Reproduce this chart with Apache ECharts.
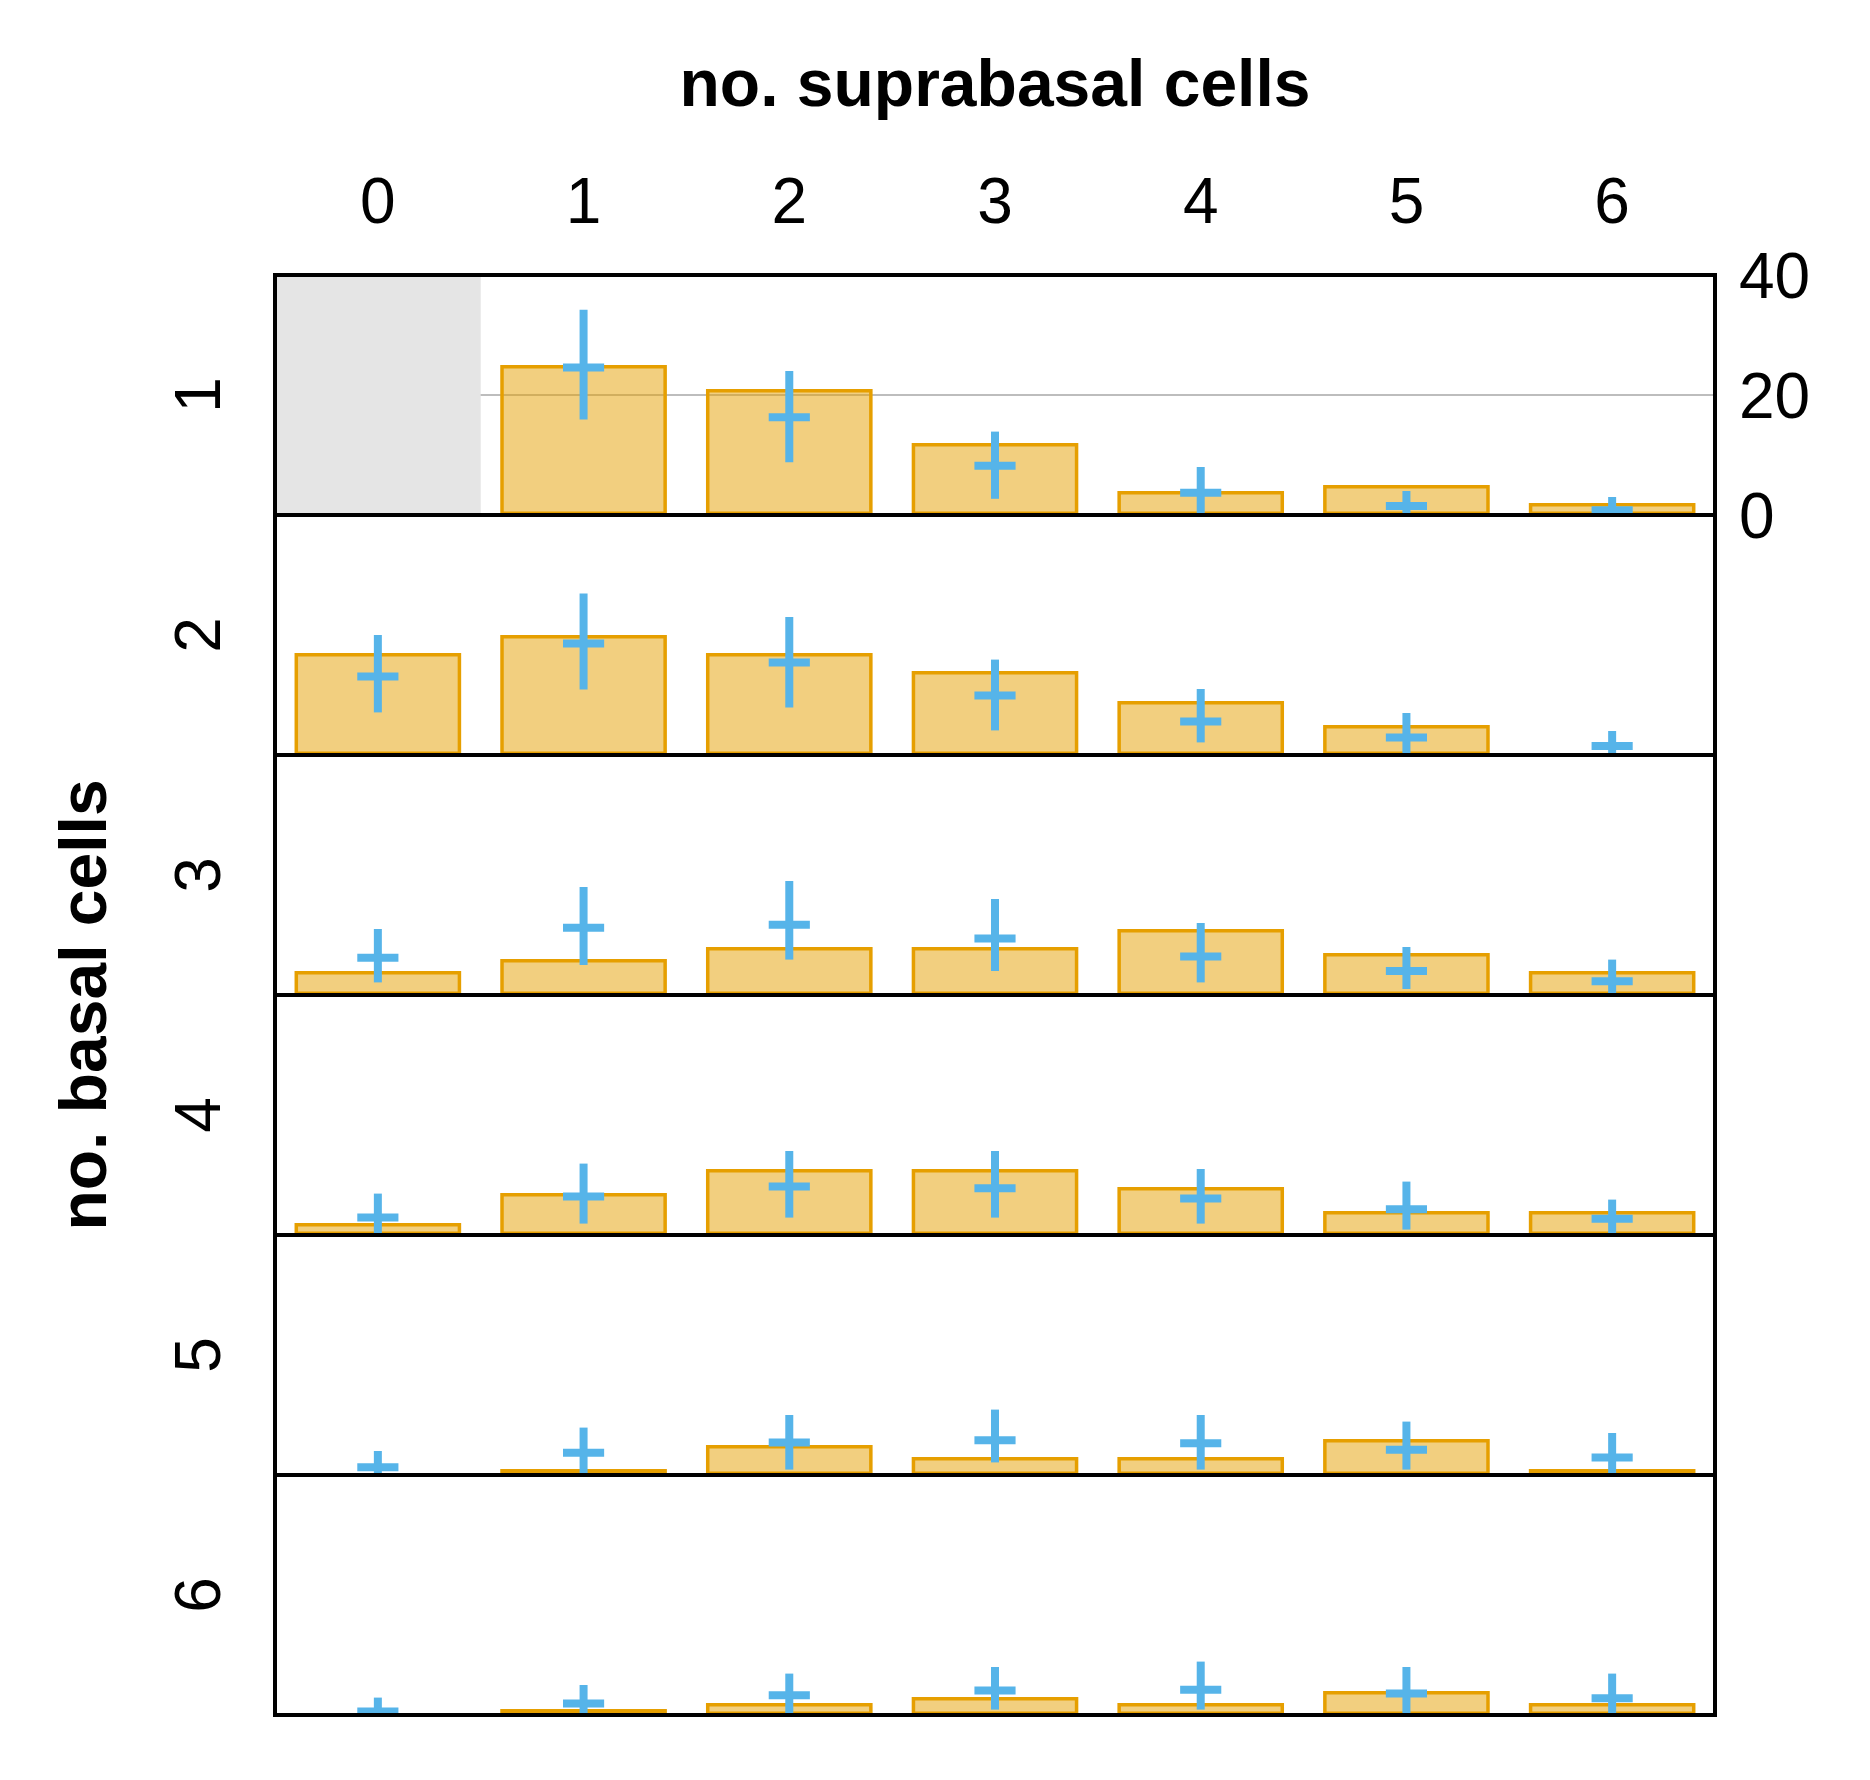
<!DOCTYPE html>
<html><head><meta charset="utf-8">
<script src="https://cdn.jsdelivr.net/npm/echarts@6/dist/echarts.min.js"></script>
<style>html,body{margin:0;padding:0;background:#fff}#c{width:1870px;height:1780px}</style>
</head><body><div id="c"></div>
<script>
// ---- data ----
const suprabasalCells = ['0', '1', '2', '3', '4', '5', '6'];   // columns
const basalCells = ['1', '2', '3', '4', '5', '6'];              // rows
const yTicks = [0, 20, 40];
// observed counts (bars), one list per row (no. basal cells)
const observed = [
  [null, 25, 21, 12, 4, 5, 2],
  [17, 20, 17, 14, 9, 5, 0],
  [4, 6, 8, 8, 11, 7, 4],
  [2, 7, 11, 11, 8, 4, 4],
  [0, 1, 5, 3, 3, 6, 1],
  [0, 1, 2, 3, 2, 4, 2]
];
// predicted mean (cross centre)
const predMean = [
  [null, 24.6, 16.3, 8.2, 3.7, 1.5, 0.8],
  [13.1, 18.6, 15.4, 9.9, 5.6, 2.9, 1.5],
  [6.2, 11.2, 11.7, 9.4, 6.4, 4.0, 2.3],
  [2.9, 6.4, 8.1, 7.8, 6.1, 4.3, 2.7],
  [1.3, 3.7, 5.4, 5.8, 5.3, 4.2, 2.9],
  [0.6, 1.9, 3.3, 4.1, 4.2, 3.6, 2.8]
];
// predicted interval low / high
const predLow = [
  [null, 15.9, 8.8, 2.7, 0, 0, 0],
  [7.1, 10.9, 7.9, 4.1, 2.1, 0.3, 0],
  [2.1, 5.0, 5.9, 4.0, 2.1, 1.0, 0.3],
  [0.3, 1.9, 2.9, 2.9, 1.9, 0.9, 0.3],
  [0.3, 0.3, 0.9, 2.1, 0.9, 0.9, 0.3],
  [0, 0, 0, 0.9, 0.9, 0, 0]
];
const predHigh = [
  [null, 34.2, 24.0, 13.9, 8.0, 4.0, 3.0],
  [20.0, 26.9, 23.0, 15.9, 11.0, 7.0, 4.0],
  [11.0, 18.0, 19.0, 16.0, 12.0, 8.0, 5.9],
  [6.9, 11.9, 14.0, 14.0, 11.0, 8.9, 5.9],
  [4.0, 7.9, 10.0, 10.9, 10.0, 8.9, 7.0],
  [2.9, 5.0, 6.9, 8.0, 8.9, 8.0, 6.9]
];
// excluded (impossible) cells: [row index, column index]
const excludedCells = [[0, 0]];

// ---- chart ----
const FONT = '"Liberation Sans", Arial, Helvetica, sans-serif';
const L = 275, W = 1440, T = 275, H = 240;
const yMin = yTicks[0], yMax = yTicks[yTicks.length - 1], yStep = yTicks[1] - yTicks[0];
const BLUE = '#56B4E9', ORANGE = '#E69F00';

const grids = [], xAxes = [], yAxes = [], series = [];

basalCells.forEach((b, i) => {
  grids.push({
    left: L, top: T + i * H, width: W, height: H,
    show: true, borderColor: '#000', borderWidth: 4, backgroundColor: 'transparent',
    z: 5, containLabel: false, outerBoundsMode: 'none'
  });
  xAxes.push({
    type: 'category', gridIndex: i, data: suprabasalCells,
    position: i === 0 ? 'top' : 'bottom',
    axisLine: { show: false }, axisTick: { show: false }, splitLine: { show: false },
    axisLabel: { show: i === 0, fontSize: 64, color: '#000', fontFamily: FONT, margin: 38 }
  });
  yAxes.push({
    type: 'value', gridIndex: i, min: yMin, max: yMax, interval: yStep, position: 'left',
    name: b, nameLocation: 'middle', nameRotate: 90, nameGap: 41,
    nameTextStyle: { fontSize: 64, color: '#000', fontFamily: FONT },
    axisLine: { show: false }, axisTick: { show: false }, axisLabel: { show: false },
    splitLine: { show: false }
  });
});
// right-hand value axis on the first row
yAxes.push({
  type: 'value', gridIndex: 0, min: yMin, max: yMax, interval: yStep, position: 'right',
  axisLine: { show: false }, axisTick: { show: false },
  axisLabel: {
    margin: 24, formatter: '{t|{value}}',
    rich: { t: { fontSize: 64, color: '#000', fontFamily: FONT, padding: [11, 0, 0, 0] } }
  },
  splitLine: { show: true, showMinLine: false, showMaxLine: false, lineStyle: { color: '#bdbdbd', width: 2 } }
});

// shaded excluded cells
excludedCells.forEach(([r, c]) => {
  series.push({
    type: 'custom', xAxisIndex: r, yAxisIndex: r, z: 3, silent: true,
    data: [[c, yMax]],
    renderItem(params, api) {
      const p = api.coord([api.value(0), api.value(1)]);
      const bw = api.size([1, 0])[0];
      const h = api.size([0, api.value(1)])[1];
      return { type: 'rect', shape: { x: p[0] - bw / 2, y: p[1], width: bw, height: h }, style: { fill: '#e5e5e5' } };
    }
  });
});

basalCells.forEach((b, i) => {
  series.push({
    type: 'bar', xAxisIndex: i, yAxisIndex: i, z: 2,
    data: observed[i],
    barCategoryGap: '19%',
    itemStyle: { color: 'rgba(230,159,0,0.5)', borderColor: ORANGE, borderWidth: 3.5 }
  });
  const crossData = [];
  suprabasalCells.forEach((s, j) => {
    if (predMean[i][j] != null) crossData.push([j, predMean[i][j], predLow[i][j], predHigh[i][j]]);
  });
  series.push({
    type: 'custom', xAxisIndex: i, yAxisIndex: i, z: 4,
    data: crossData,
    renderItem(params, api) {
      const x = api.value(0);
      const top = api.coord([x, api.value(3)]);
      const bot = api.coord([x, api.value(2)]);
      const mid = api.coord([x, api.value(1)]);
      const hw = api.size([1, 0])[0] * 0.1;
      return {
        type: 'group', children: [
          { type: 'line', shape: { x1: top[0], y1: top[1], x2: bot[0], y2: bot[1] }, style: { stroke: BLUE, lineWidth: 8, lineCap: 'butt' } },
          { type: 'line', shape: { x1: mid[0] - hw, y1: mid[1], x2: mid[0] + hw, y2: mid[1] }, style: { stroke: BLUE, lineWidth: 8, lineCap: 'butt' } }
        ]
      };
    }
  });
});

const chart = echarts.init(document.getElementById('c'), null, { renderer: 'canvas' });
chart.setOption({
  animation: false,
  backgroundColor: '#fff',
  grid: grids, xAxis: xAxes, yAxis: yAxes, series: series,
  graphic: [
    { type: 'text', x: L + W / 2, y: 88, style: { text: 'no. suprabasal cells', fontSize: 66, fontWeight: 'bold', fontFamily: FONT, fill: '#000', align: 'center', verticalAlign: 'middle' } },
    { type: 'text', x: 88, y: T + 3 * H + 10, rotation: Math.PI / 2, style: { text: 'no. basal cells', fontSize: 66, fontWeight: 'bold', fontFamily: FONT, fill: '#000', align: 'center', verticalAlign: 'middle' } }
  ]
});
</script>
</body></html>
